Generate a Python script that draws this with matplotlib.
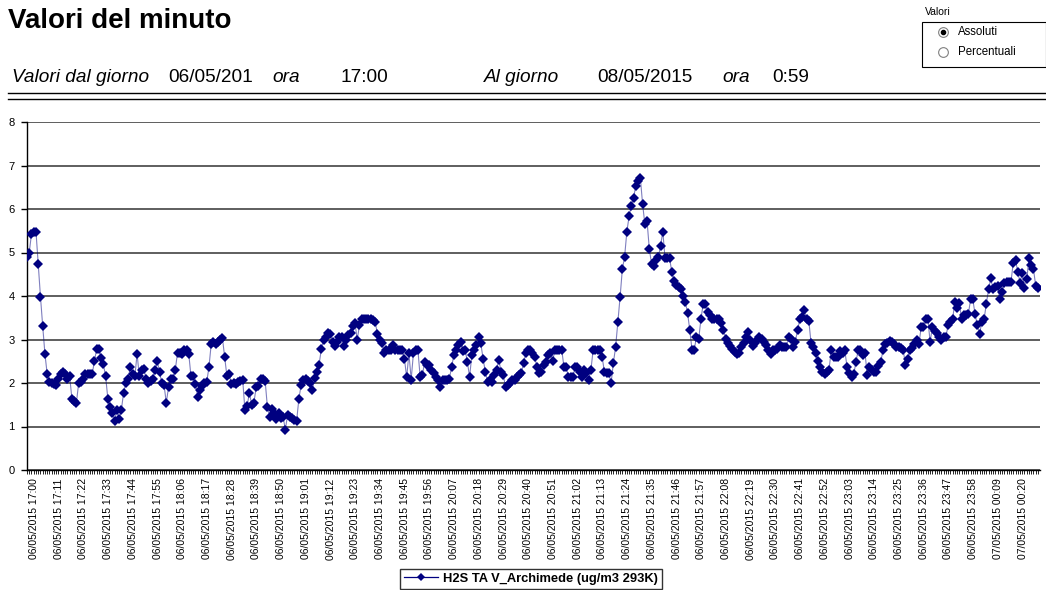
import matplotlib
matplotlib.use('Agg')
import matplotlib.pyplot as plt
from matplotlib.lines import Line2D
from matplotlib.patches import Rectangle
from matplotlib.transforms import ScaledTranslation
import numpy as np

plt.rcParams['font.family'] = ['Liberation Sans', 'DejaVu Sans']

# ---------------- data ----------------
series_name = "H2S TA V_Archimede (ug/m3 293K)"

values = [
    4.90, 5.00, 5.43, 5.47, 5.48, 4.73, 3.98, 3.30, 2.66, 2.20, 2.03,
    2.00, 1.97, 1.95, 2.10, 2.20, 2.25, 2.20, 2.10, 2.15, 1.63, 1.58,
    1.55, 2.00, 2.02, 2.10, 2.20, 2.20, 2.20, 2.20, 2.50, 2.78, 2.78,
    2.57, 2.43, 2.15, 1.63, 1.45, 1.32, 1.13, 1.38, 1.17, 1.38, 1.78,
    2.00, 2.10, 2.37, 2.20, 2.15, 2.67, 2.15, 2.30, 2.33, 2.10, 2.00,
    2.05, 2.10, 2.30, 2.50, 2.25, 2.00, 1.95, 1.55, 1.90, 2.10, 2.10,
    2.30, 2.70, 2.70, 2.67, 2.77, 2.77, 2.67, 2.15, 2.15, 1.97, 1.68,
    1.85, 1.92, 2.00, 2.02, 2.37, 2.90, 2.95, 2.90, 2.95, 3.00, 3.03,
    2.60, 2.15, 2.20, 1.97, 2.00, 1.97, 2.02, 2.05, 2.08, 1.38, 1.48,
    1.78, 1.50, 1.55, 1.90, 1.92, 2.10, 2.10, 2.05, 1.45, 1.22, 1.40,
    1.30, 1.18, 1.32, 1.20, 1.22, 0.93, 1.27, 1.22, 1.20, 1.15, 1.12,
    1.63, 1.95, 2.08, 2.10, 2.05, 2.00, 1.83, 2.12, 2.25, 2.42, 2.78,
    3.00, 3.05, 3.15, 3.12, 2.95, 2.85, 2.95, 3.05, 3.05, 2.85, 3.00,
    3.10, 3.14, 3.30, 3.37, 3.00, 3.33, 3.46, 3.48, 3.48, 3.48, 3.48,
    3.45, 3.40, 3.12, 3.00, 2.93, 2.70, 2.76, 2.76, 2.77, 2.87, 2.77,
    2.77, 2.77, 2.76, 2.56, 2.13, 2.68, 2.08, 2.68, 2.76, 2.76, 2.14,
    2.18, 2.49, 2.41, 2.41, 2.30, 2.22, 2.14, 2.07, 1.91, 2.07, 2.07,
    2.07, 2.10, 2.37, 2.64, 2.76, 2.87, 2.95, 2.74, 2.77, 2.49, 2.14,
    2.64, 2.76, 2.87, 3.05, 2.91, 2.56, 2.26, 2.03, 2.08, 2.03, 2.18,
    2.30, 2.54, 2.26, 2.18, 1.91, 1.95, 1.99, 2.07, 2.08, 2.14, 2.18,
    2.22, 2.45, 2.68, 2.76, 2.76, 2.68, 2.59, 2.37, 2.22, 2.26, 2.41,
    2.49, 2.64, 2.70, 2.51, 2.76, 2.76, 2.76, 2.77, 2.37, 2.37, 2.14,
    2.14, 2.14, 2.37, 2.37, 2.26, 2.14, 2.30, 2.22, 2.08, 2.30, 2.76,
    2.76, 2.76, 2.77, 2.60, 2.26, 2.22, 2.22, 2.00, 2.46, 2.83, 3.41,
    3.98, 4.62, 4.90, 5.48, 5.83, 6.08, 6.26, 6.54, 6.65, 6.72, 6.12,
    5.66, 5.72, 5.08, 4.74, 4.68, 4.83, 4.89, 5.15, 5.48, 4.87, 4.87,
    4.87, 4.56, 4.35, 4.25, 4.20, 4.15, 4.00, 3.87, 3.62, 3.22, 2.77,
    2.77, 3.06, 3.02, 3.48, 3.82, 3.81, 3.64, 3.56, 3.48, 3.48, 3.48,
    3.46, 3.37, 3.22, 3.02, 2.91, 2.85, 2.79, 2.72, 2.66, 2.70, 2.82,
    2.91, 3.05, 3.18, 2.99, 2.85, 2.91, 2.99, 3.06, 3.02, 2.95, 2.87,
    2.77, 2.66, 2.77, 2.77, 2.79, 2.87, 2.82, 2.82, 2.82, 3.05, 3.02,
    2.82, 2.95, 3.22, 3.46, 3.52, 3.68, 3.46, 3.43, 2.91, 2.82, 2.70,
    2.50, 2.37, 2.26, 2.20, 2.26, 2.31, 2.76, 2.60, 2.60, 2.60, 2.74,
    2.70, 2.76, 2.37, 2.22, 2.14, 2.20, 2.49, 2.76, 2.76, 2.64, 2.70,
    2.18, 2.37, 2.30, 2.25, 2.25, 2.38, 2.48, 2.75, 2.89, 2.93, 2.96,
    2.95, 2.90, 2.83, 2.83, 2.80, 2.77, 2.41, 2.56, 2.75, 2.80, 2.89,
    3.00, 2.89, 3.28, 3.28, 3.46, 3.46, 2.95, 3.28, 3.20, 3.14, 3.06,
    2.98, 3.06, 3.06, 3.33, 3.40, 3.46, 3.87, 3.72, 3.83, 3.48, 3.56,
    3.56, 3.58, 3.92, 3.92, 3.58, 3.33, 3.12, 3.41, 3.46, 3.82, 4.15,
    4.41, 4.15, 4.20, 4.23, 3.92, 4.10, 4.31, 4.33, 4.33, 4.33, 4.77,
    4.82, 4.56, 4.31, 4.52, 4.18, 4.38, 4.87, 4.72, 4.62, 4.23, 4.18,
]

tick_labels = [
    "06/05/2015 17:00", "06/05/2015 17:11", "06/05/2015 17:22", "06/05/2015 17:33",
    "06/05/2015 17:44", "06/05/2015 17:55", "06/05/2015 18:06", "06/05/2015 18:17",
    "06/05/2015 18:28", "06/05/2015 18:39", "06/05/2015 18:50", "06/05/2015 19:01",
    "06/05/2015 19:12", "06/05/2015 19:23", "06/05/2015 19:34", "06/05/2015 19:45",
    "06/05/2015 19:56", "06/05/2015 20:07", "06/05/2015 20:18", "06/05/2015 20:29",
    "06/05/2015 20:40", "06/05/2015 20:51", "06/05/2015 21:02", "06/05/2015 21:13",
    "06/05/2015 21:24", "06/05/2015 21:35", "06/05/2015 21:46", "06/05/2015 21:57",
    "06/05/2015 22:08", "06/05/2015 22:19", "06/05/2015 22:30", "06/05/2015 22:41",
    "06/05/2015 22:52", "06/05/2015 23:03", "06/05/2015 23:14", "06/05/2015 23:25",
    "06/05/2015 23:36", "06/05/2015 23:47", "06/05/2015 23:58", "07/05/2015 00:09",
    "07/05/2015 00:20",
]
tick_step = 11
y_ticks = [0, 1, 2, 3, 4, 5, 6, 7, 8]

# ---------------- figure ----------------
W, H = 1046, 590
fig = plt.figure(figsize=(W / 100, H / 100), dpi=100)
fig.patch.set_facecolor('white')


def fx(px):
    return px / W


def fy(py):
    return 1 - py / H


# title and header
fig.text(fx(8), fy(21), "Valori del minuto", fontsize=20, fontweight='bold',
         ha='left', va='center')
hdr_y = fy(77)
hdr = [
    (12, "Valori dal giorno", 'italic'),
    (168, "06/05/201", 'normal'),
    (272, "ora", 'italic'),
    (340, "17:00", 'normal'),
    (484, "Al giorno", 'italic'),
    (597, "08/05/2015", 'normal'),
    (722, "ora", 'italic'),
    (772, "0:59", 'normal'),
]
for px, txt, st in hdr:
    fig.text(fx(px), hdr_y, txt, fontsize=13.7, style=st, ha='left', va='center')

for py in (93, 99):
    fig.add_artist(Line2D([fx(8), fx(1046)], [fy(py), fy(py)], color='black',
                          lw=1.0, transform=fig.transFigure))

# radio-button box
fig.text(fx(925), fy(12), "Valori", fontsize=7.5, ha='left', va='center')
fig.add_artist(Rectangle((fx(922), fy(67)), fx(1046) - fx(922), fy(22) - fy(67),
                         transform=fig.transFigure, fill=False, ec='black', lw=0.8))
for py, txt, sel in ((32, "Assoluti", True), (52, "Percentuali", False)):
    fig.add_artist(Line2D([fx(943)], [fy(py)], marker='o', ms=7, mfc='white',
                          mec='#808080', mew=0.8, transform=fig.transFigure))
    if sel:
        fig.add_artist(Line2D([fx(943)], [fy(py)], marker='o', ms=3, mfc='black',
                              mec='black', transform=fig.transFigure))
    fig.text(fx(958), fy(py), txt, fontsize=8.3, ha='left', va='center')

# chart axes
ax = fig.add_axes([fx(27), fy(470), fx(1040) - fx(27), fy(122) - fy(470)])
x = np.arange(len(values))
ax.plot(x, values, color='#000080', lw=0.8, alpha=0.5, zorder=3)
ax.plot(x, values, ls='none', marker='D', ms=5, color='#000080', mew=0,
        zorder=4)
ax.set_xlim(0, len(values) - 1 + 0.9)
ax.set_ylim(0, 8)
ax.set_yticks(y_ticks)
ax.set_yticklabels([str(v) for v in y_ticks], fontsize=8)
ax.yaxis.grid(True, color='#333333', lw=1.1)
ax.set_axisbelow(True)
for s in ('top', 'right'):
    ax.spines[s].set_visible(False)
ax.spines['left'].set_linewidth(1.0)
ax.spines['bottom'].set_linewidth(1.0)
ax.tick_params(axis='y', length=4, width=1, pad=5)

ax.set_xticks(x[::tick_step][:len(tick_labels)])
ax.set_xticklabels(tick_labels, rotation=90, fontsize=7.5)
ax.set_xticks(x, minor=True)
ax.tick_params(axis='x', which='both', length=3, width=0.6, direction='out', pad=3)
shift = ScaledTranslation(7 / 100, 0, fig.dpi_scale_trans)
for lbl in ax.get_xticklabels():
    lbl.set_transform(lbl.get_transform() + shift)

# legend
handle = Line2D([0], [0], color='#000080', lw=0.9, marker='D', ms=4.5, mew=0)
fig.legend(handles=[handle], labels=[series_name], loc='center',
           bbox_to_anchor=(fx(531), fy(579)), frameon=True, fancybox=False,
           edgecolor='black', prop={'weight': 'bold', 'size': 9.3},
           handlelength=2.6, borderpad=0.3, handletextpad=0.4)

fig.savefig('out.png', dpi=100)
